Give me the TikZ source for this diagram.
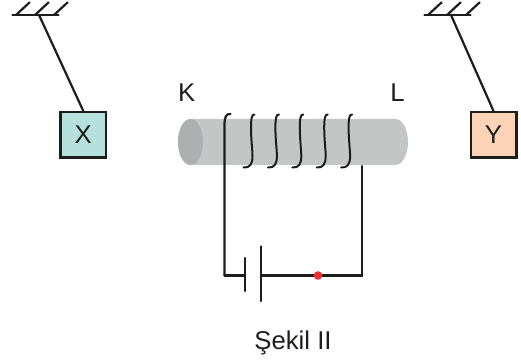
\documentclass[tikz,border=0pt]{standalone}
\usepackage{fontspec}
\setmainfont{Liberation Sans}
\usepackage{xcolor}
\usetikzlibrary{calc,positioning}
\definecolor{inkblack}{HTML}{1D1D1B}
\definecolor{rodbody}{HTML}{C4C6C5}
\definecolor{rodend}{HTML}{ADAFB0}
\definecolor{boxX}{HTML}{B6E0DB}
\definecolor{boxY}{HTML}{FDD3B8}
\definecolor{switchdot}{HTML}{EE2F2F}
\tikzset{
	wire/.style={draw=inkblack, line width=2.2pt, line cap=round, line join=miter},
	label/.style={text=inkblack, inner sep=0pt, font=\fontsize{25.7}{30}\selectfont},
	hanging box/.style={label, draw=inkblack, line width=2.5pt, minimum size=45.5pt},
	turn/.style={wire, line width=2pt}
}
\begin{document}
\begin{tikzpicture}[x=1pt, y=-1pt]
    \useasboundingbox (0,0) rectangle (521,363);
    % rod
    \fill[rodbody] (190.5,119) -- (395.5,119) arc[start angle=-90, end angle=90, x radius=12.5, y radius=23]
      -- (190.5,165) arc[start angle=90, end angle=270, x radius=12.5, y radius=23] -- cycle;
    \fill[rodend] (190.5,142) ellipse[x radius=12.5, y radius=23];
    % hanging boxes
    \node[hanging box, fill=boxX] (X) at (83.3,135) {X};
    \node[hanging box, fill=boxY] (Y) at (493.5,135) {Y};
    \coordinate (ceilX) at (39,15);
    \coordinate (ceilY) at (451,15);
    \draw[wire] (ceilX) -- (X.north);
    \draw[wire] (ceilY) -- (Y.north);
    \foreach \c in {ceilX,ceilY} {
      \draw[wire] ($(\c)+(-26.5,0)$) -- ($(\c)+(19.5,0)$);
      \foreach \i in {-23,-4,15}
        \draw[wire] ($(\c)+(\i,0)$) -- ++(13.5,-12.5);
    }
    \node[label, anchor=base] (K) at (186.7,102) {K};
    \node[label, anchor=base] (L) at (397.5,102) {L};
    % coil
    \coordinate (coilA) at (224.5,275.5);
    \coordinate (coilB) at (362,275.5);
    \draw[wire] (coilA) -- (224.5,125) .. controls (224.5,117) and (226,113.5) .. (230.5,114);
    \foreach \i in {0,...,4}
      \draw[turn, shift={(\i*24.4,0)}] (254.5,114.5) .. controls (251.5,114) and (251,120) .. (251,127)
        .. controls (251,140) and (252.5,150) .. (252.5,156) .. controls (252.5,164) and (250,168) .. (243.5,167.5);
    % circuit
    \coordinate (plateA) at (244.7,275.5);
    \coordinate (plateB) at (261,275.5);
    \draw[wire] (coilB |- 0,166) -- (coilB) -- (plateB);
    \draw[wire] (coilA) -- (plateA);
    \draw[wire] ($(plateA)+(0,-17.5)$) -- ($(plateA)+(0,15.5)$);
    \draw[wire] ($(plateB)+(0,-29)$) -- ($(plateB)+(0,25.5)$);
    \node[circle, fill=switchdot, inner sep=0pt, minimum size=8.6pt] (dot) at (318,275.5) {};
    \node[label, anchor=base] (cap) at (293,349.3) {Şekil II};
\end{tikzpicture}
\end{document}
